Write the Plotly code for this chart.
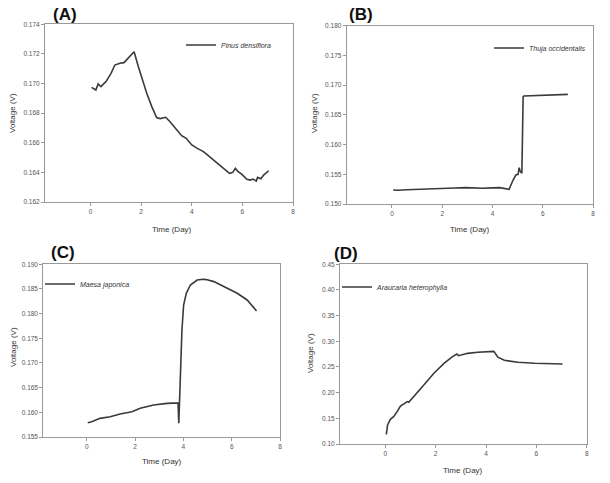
import plotly.graph_objects as go

W, H = 610, 483

# ---- Data ----
a_name = "Pinus densiflora"
a_x = [0.04, 0.15, 0.21, 0.30, 0.41, 0.61, 0.81, 0.96, 1.16, 1.32, 1.49, 1.72, 1.89, 2.06, 2.22, 2.42,
       2.61, 2.75, 2.97, 3.14, 3.41, 3.60, 3.78, 4.00, 4.22, 4.46, 4.70, 4.99, 5.19, 5.49, 5.62, 5.72,
       5.81, 5.98, 6.18, 6.31, 6.42, 6.55, 6.60, 6.73, 6.84, 7.04]
a_y = [0.16974, 0.16963, 0.16956, 0.16997, 0.16979, 0.17013, 0.17069, 0.17125, 0.17137, 0.17141, 0.17170,
       0.17215, 0.17114, 0.17013, 0.16934, 0.16844, 0.16770, 0.16763, 0.16772, 0.16742, 0.16686, 0.16648,
       0.16630, 0.16585, 0.16562, 0.16540, 0.16506, 0.16465, 0.16438, 0.16393, 0.16400, 0.16427, 0.16409,
       0.16387, 0.16353, 0.16348, 0.16355, 0.16341, 0.16366, 0.16357, 0.16382, 0.16411]

b_name = "Thuja occidentalis"
b_x = [0.05, 0.25, 0.60, 0.93, 1.50, 2.00, 2.50, 2.94, 3.30, 3.61, 4.00, 4.28, 4.66, 4.74, 4.82, 4.93,
       5.02, 5.06, 5.11, 5.17, 5.19, 5.22, 5.25, 5.62, 6.30, 7.00]
b_y = [0.15235, 0.15232, 0.15240, 0.15247, 0.15258, 0.15264, 0.15270, 0.15275, 0.15268, 0.15264, 0.15272,
       0.15275, 0.15247, 0.15330, 0.15404, 0.15488, 0.15500, 0.15611, 0.15544, 0.15516, 0.16497, 0.16806,
       0.16817, 0.16822, 0.16834, 0.16845]

c_name = "Maesa japonica"
c_x = [0.04, 0.20, 0.55, 0.97, 1.38, 1.87, 2.21, 2.77, 3.32, 3.71, 3.78, 3.81, 3.83, 3.875, 3.94, 4.01,
       4.12, 4.29, 4.57, 4.82, 4.95, 5.26, 5.67, 6.23, 6.64, 7.03]
c_y = [0.15790, 0.15810, 0.15878, 0.15912, 0.15966, 0.16013, 0.16081, 0.16149, 0.16182, 0.16198, 0.16190,
       0.15777, 0.16100, 0.16791, 0.17668, 0.18175, 0.18412, 0.18580, 0.18682, 0.18696, 0.18690, 0.18649,
       0.18547, 0.18412, 0.18277, 0.18054]

d_name = "Araucaria heterophylla"
d_x = [0.04, 0.09, 0.20, 0.33, 0.47, 0.60, 0.80, 0.87, 0.93, 1.20, 1.53, 1.93, 2.33, 2.67, 2.84, 2.91,
       3.27, 3.67, 4.07, 4.31, 4.47, 4.73, 5.27, 5.93, 7.04]
d_y = [0.1185, 0.1370, 0.1480, 0.1532, 0.1630, 0.1740, 0.1800, 0.1825, 0.1812, 0.1955, 0.2150, 0.2377,
       0.2571, 0.2701, 0.2753, 0.2720, 0.2766, 0.2786, 0.2790, 0.2805, 0.2690, 0.2630, 0.2591, 0.2572, 0.2559]

x_range = [-1.8, 8]
x_ticks = [0, 2, 4, 6, 8]
a_ticks = [0.162, 0.164, 0.166, 0.168, 0.170, 0.172, 0.174]
b_ticks = [0.150, 0.155, 0.160, 0.165, 0.170, 0.175, 0.180]
c_ticks = [0.155, 0.160, 0.165, 0.170, 0.175, 0.180, 0.185, 0.190]
d_ticks = [0.10, 0.15, 0.20, 0.25, 0.30, 0.35, 0.40, 0.45]
panel_labels = ["(A)", "(B)", "(C)", "(D)"]
x_title = "Time (Day)"
y_title = "Voltage (V)"


def px_x(p):
    return p / W


def px_y(p):
    return 1 - p / H


# pixel boxes: left, right, top, bottom
boxes = [(45, 293, 24.3, 202), (346.7, 593, 25.7, 204), (43.3, 280, 264.3, 437), (340, 586.7, 264.3, 444)]
series = [(a_name, a_x, a_y, a_ticks, "%.3f"), (b_name, b_x, b_y, b_ticks, "%.3f"),
          (c_name, c_x, c_y, c_ticks, "%.3f"), (d_name, d_x, d_y, d_ticks, "%.2f")]
legend_pos = [(181, 45), (489, 48), (40, 284), (337, 287)]
label_pos = [(65, 15), (361, 15), (63, 252), (346, 253)]
ytitle_pos = [(13, 113), (315, 113), (13, 347), (310, 353)]
xtitle_pos = [(172, 229), (470, 229), (162, 461), (463, 470)]

FONT = "Liberation Sans, Arial, sans-serif"
fig = go.Figure()
layout = dict(width=W, height=H, margin=dict(l=0, r=0, t=0, b=0, pad=0, autoexpand=False),
              paper_bgcolor="white", plot_bgcolor="white", font=dict(family=FONT, color="#333"),
              annotations=[])

for i, ((name, xs, ys, ticks, fmt), (l, r, t, b)) in enumerate(zip(series, boxes)):
    k = "" if i == 0 else str(i + 1)
    leg = "legend" if i == 0 else "legend" + str(i + 1)
    fig.add_trace(go.Scatter(x=xs, y=ys, mode="lines", name=name,
                             line=dict(color="#3a3a3a", width=1.6),
                             xaxis="x" + k, yaxis="y" + k, legend=leg, showlegend=True))
    common = dict(showline=True, mirror=True, linecolor="#9a9a9a", linewidth=1, showgrid=False,
                  zeroline=False, ticks="outside", ticklen=3, tickcolor="#9a9a9a",
                  tickfont=dict(size=6.5, color="#555", family=FONT))
    layout["xaxis" + k] = dict(common, domain=[px_x(l), px_x(r)], range=x_range, tickvals=x_ticks,
                               anchor="y" + k)
    layout["yaxis" + k] = dict(common, domain=[px_y(b), px_y(t)], range=[ticks[0], ticks[-1]],
                               tickvals=ticks, ticktext=[fmt % v for v in ticks], anchor="x" + k)
    lx, ly = legend_pos[i]
    layout[leg] = dict(x=px_x(lx), y=px_y(ly), xanchor="left", yanchor="middle", bgcolor="rgba(0,0,0,0)",
                       font=dict(size=7, family=FONT, color="#333", style="italic"),
                       itemwidth=30, tracegroupgap=0)
    px_, py_ = label_pos[i]
    ann = dict(xref="paper", yref="paper", showarrow=False, xanchor="center", yanchor="middle")
    layout["annotations"].append(dict(ann, text="<b>" + panel_labels[i] + "</b>", x=px_x(px_), y=px_y(py_),
                                      font=dict(size=17, family=FONT, color="#111")))
    yx, yy = ytitle_pos[i]
    layout["annotations"].append(dict(ann, text=y_title, x=px_x(yx), y=px_y(yy), textangle=-90,
                                      font=dict(size=8, family=FONT, color="#333")))
    xx, xy = xtitle_pos[i]
    layout["annotations"].append(dict(ann, text=x_title, x=px_x(xx), y=px_y(xy),
                                      font=dict(size=8, family=FONT, color="#333")))

fig.update_layout(**layout)
fig.write_html("out.html", config={"displayModeBar": False},
               post_script="document.body.style.margin='0';")
